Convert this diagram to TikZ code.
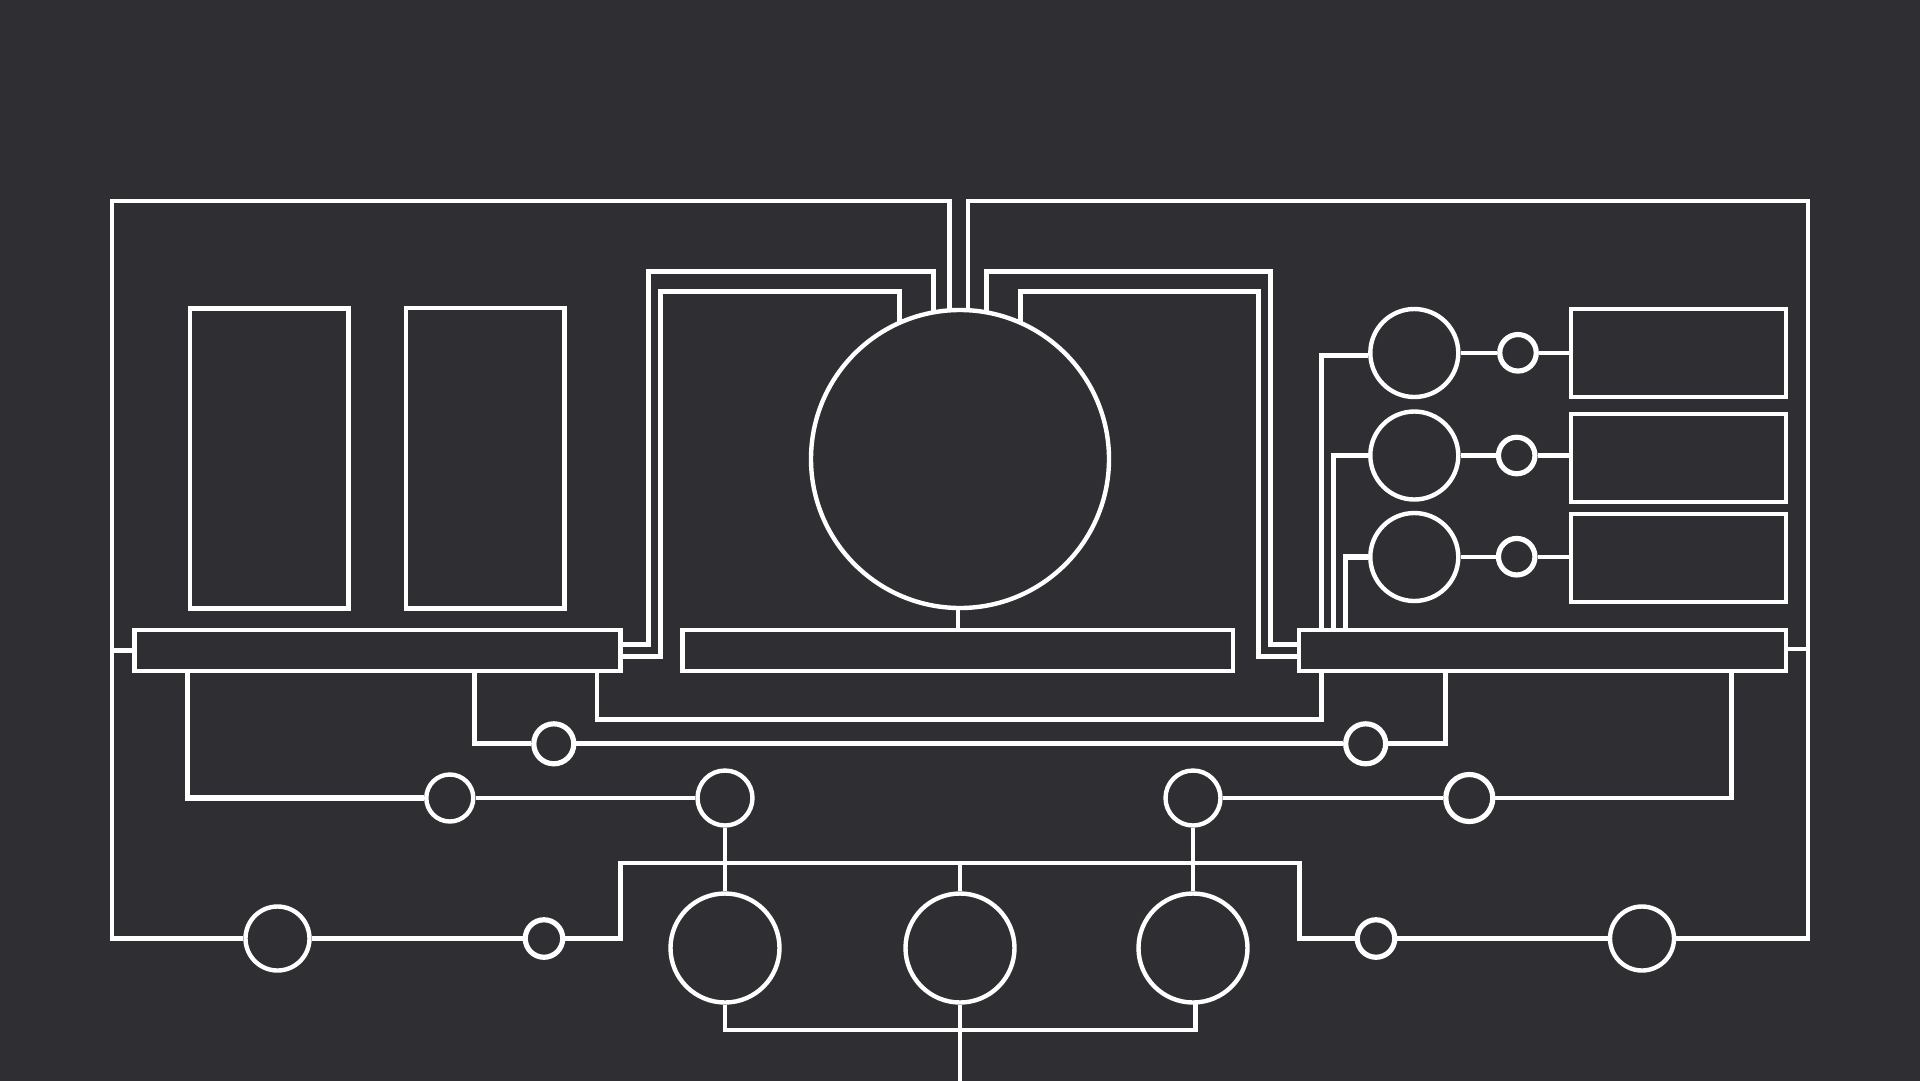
\documentclass[tikz,border=0pt]{standalone}
\usetikzlibrary{calc}
\definecolor{bgc}{HTML}{2F2E33}
\tikzset{
  wire/.style={draw=white,line width=4.4pt,line join=miter},
  wireb/.style={draw=white,line width=5.2pt,line join=miter},
  boxn/.style={draw=white,line width=4.4pt,inner sep=0pt,rectangle},
  ringn/.style={draw=white,line width=4.4pt,inner sep=0pt,circle},
  ringb/.style={draw=white,line width=5.2pt,inner sep=0pt,circle}
}
\newcommand{\bx}[5]{\node[boxn,minimum width={(#4-#2)*1pt},minimum height={(#5-#3)*1pt}] (#1) at ({(#2+#4)/2},{(#3+#5)/2}) {};}
\begin{document}
\begin{tikzpicture}[x=1pt,y=-1pt]
\useasboundingbox (0,0) rectangle (1920,1080);
\fill[bgc] (-10,-10) rectangle (1930,1090);
% panels
\bx{rA}{190}{308.5}{348.6}{608.6}
\bx{rB}{406}{308}{564.5}{608.3}
\bx{barL}{134.4}{630}{620.4}{671}
\bx{barM}{682.4}{630}{1233}{671}
\bx{barR}{1299}{630}{1786}{671}
\bx{r1}{1571.2}{309}{1786}{397}
\bx{r2}{1571.2}{414}{1786}{502}
\bx{r3}{1571.2}{514}{1786}{602}
% circles
\node[ringn,minimum size=298pt] (bigC) at (960,459) {};
\node[ringn,minimum size=88pt] (c1) at (1414.3,353) {};
\node[ringn,minimum size=88pt] (c2) at (1414.3,455.5) {};
\node[ringn,minimum size=88pt] (c3) at (1414.3,557) {};
\node[ringb,minimum size=36.5pt] (s1) at (1518,352.8) {};
\node[ringb,minimum size=36.5pt] (s2) at (1516.7,455.5) {};
\node[ringb,minimum size=36.5pt] (s3) at (1516.7,556.7) {};
\node[ringn,minimum size=47pt] (cA) at (449.8,798) {};
\node[ringn,minimum size=55pt] (cB) at (725,798) {};
\node[ringb,minimum size=40pt] (cC) at (553.8,743.8) {};
\node[ringb,minimum size=40pt] (cCp) at (1365.7,743.8) {};
\node[ringn,minimum size=55pt] (cD) at (1193,798) {};
\node[ringb,minimum size=47pt] (cE) at (1469.3,798) {};
\node[ringb,minimum size=37.5pt] (cF) at (544,938.5) {};
\node[ringn,minimum size=64pt] (cG) at (277.5,938.5) {};
\node[ringn,minimum size=109pt] (cH) at (725,948) {};
\node[ringn,minimum size=109pt] (cI) at (960,948) {};
\node[ringn,minimum size=109pt] (cJ) at (1193,948) {};
\node[ringb,minimum size=37.5pt] (cK) at (1376,938.5) {};
\node[ringn,minimum size=64pt] (cL) at (1642,938.5) {};
% helper coordinates
\coordinate (tlEnd) at (949.6,311);
\coordinate (tlCorner) at (111.8,201);
\coordinate (trEnd) at (968.2,311);
\coordinate (trCorner) at (1808,201);
\coordinate (jL) at (111.8,650.3);
\coordinate (jR) at (1808,649);
\coordinate (l1a) at (620.4,644.7);
\coordinate (l1b) at (648.5,271.5);
\coordinate (l1c) at (933.5,312.5);
\coordinate (l2a) at (620.4,656.7);
\coordinate (l2b) at (660.5,291.5);
\coordinate (l2c) at (899.3,323.5);
\coordinate (r1a) at (1299,644.7);
\coordinate (r1b) at (1270.5,271.5);
\coordinate (r1c) at (986.4,312.5);
\coordinate (r2a) at (1299,656.7);
\coordinate (r2b) at (1258.3,291.5);
\coordinate (r2c) at (1020.7,323.5);
\coordinate (f1) at (1321.6,630);
\coordinate (f2) at (1333.5,630);
\coordinate (f3) at (1345.3,630);
\coordinate (d1) at (187.8,671);
\coordinate (d2) at (474.8,671);
\coordinate (d3) at (596.7,671);
\coordinate (d3m) at (960,719.5);
\coordinate (d4) at (1321.5,671);
\coordinate (d5) at (1445.3,671);
\coordinate (d6) at (1731.4,671);
\coordinate (busL) at (620.6,862.8);
\coordinate (busM) at (960,862.8);
\coordinate (busR) at (1299.6,862.8);
\coordinate (botM) at (960,1029.8);
\coordinate (botR) at (1195.6,1002.5);
\coordinate (exitB) at (960,1085);
% outer loops
\draw[wire] (tlEnd) |- (tlCorner) |- (cG.west);
\draw[wire] (trEnd) |- (trCorner) |- (cL.east);
\draw[wire] (jL) -- (jL -| barL.west);
\draw[wire] (jR) -- (jR -| barR.east);
% ports into the large circle
\draw[wireb] (l1a) -| (l1b) -| (l1c);
\draw[wireb] (l2a) -| (l2b) -| (l2c);
\draw[wireb] (r1a) -| (r1b) -| (r1c);
\draw[wireb] (r2a) -| (r2b) -| (r2c);
\draw[wire] (barM.north) -- (barM.north |- bigC.south);
% right column
\draw[wireb] (f1) |- ([yshift=-2.5pt]c1.west);
\draw[wireb] (f2) |- (c2.west);
\draw[wireb] (f3) |- (c3.west);
\draw[wire] (c1.east) -- (c1.east -| s1.west);
\draw[wire] (c2.east) -- (c2.east -| s2.west);
\draw[wire] (c3.east) -- (c3.east -| s3.west);
\draw[wire] (s1.east) -- (s1.east -| r1.west);
\draw[wire] (s2.east) -- (s2.east -| r2.west);
\draw[wire] (s3.east) -- (s3.east -| r3.west);
% lower wiring
\draw[wireb] (d1) |- (cA.west);
\draw[wire] (cA.east) -- (cB.west);
\draw[wireb] (d2) |- (cC.west);
\draw[wireb] (cC.east) -- (cCp.west);
\draw[wireb] (cCp.east) -| (d5);
\draw[wire] (d3) |- (d3m) -| (d4);
\draw[wire] (cD.east) -- (cE.west);
\draw[wire] (cE.east) -| (d6);
\draw[wire] (cB.south) -- (cH.north);
\draw[wire] (cD.south) -- (cJ.north);
\draw[wire] (busM) -- (cI.north);
\draw[wire] (cG.east) -- (cF.west);
\draw[wire] (cF.east) -| (busL) -- (busR) |- (cK.west);
\draw[wire] (cK.east) -- (cL.west);
\draw[wire] (cH.south) |- (botM) -| (botR);
\draw[wire] (cI.south) -- (exitB);
\end{tikzpicture}
\end{document}
